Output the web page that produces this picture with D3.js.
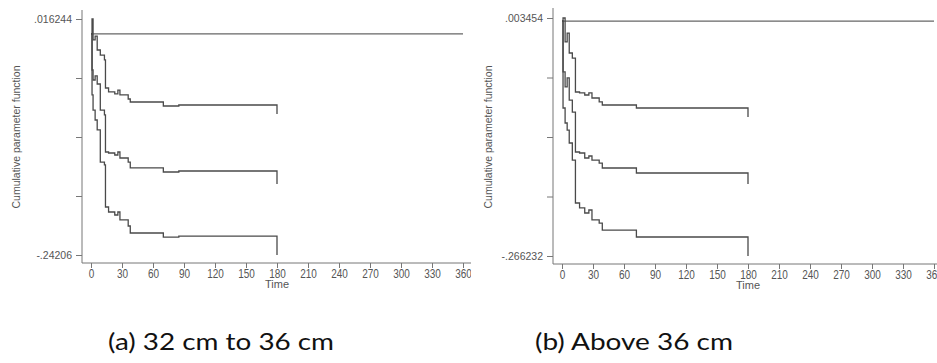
<!DOCTYPE html>
<html>
<head>
<meta charset="utf-8">
<script src="https://cdn.jsdelivr.net/npm/d3@7"></script>
<style>
  html, body { margin: 0; padding: 0; background: #fff; }
  svg { display: block; }
  .axis text { font-family: "Liberation Sans", Arial, sans-serif; fill: #555; }
  .axis line { stroke: #777; }
  .axis path { display: none; }
</style>
</head>
<body>
<svg id="chart" width="937" height="363"></svg>
<script>
// Shared x-axis ticks (days)
const xTicks = [0, 30, 60, 90, 120, 150, 180, 210, 240, 270, 300, 330, 360];
const xLabel = "Time";
const yLabel = "Cumulative parameter function";
const captions = ["(a) 32 cm to 36 cm", "(b) Above 36 cm"];

// Panel (a): step times and cumulative estimates with confidence limits
const timesA    = [0, 1, 2, 4, 6, 9, 13, 14, 17, 23, 26, 28, 36, 38, 70, 85, 180];
const upperA    = [0, 0.016244, -0.0067, -0.0024, -0.0177, -0.0232, -0.0286, -0.0593, -0.0636, -0.0658, -0.0615, -0.0669, -0.0713, -0.0746, -0.0790, -0.0779, -0.0877];
const estimateA = [0, -0.0396, -0.0505, -0.0461, -0.0549, -0.0834, -0.0888, -0.1293, -0.1304, -0.1326, -0.1293, -0.1359, -0.1403, -0.1468, -0.1512, -0.1501, -0.1643];
const lowerA    = [0, -0.0669, -0.0834, -0.0943, -0.1052, -0.1403, -0.1435, -0.1895, -0.1950, -0.1983, -0.1950, -0.2037, -0.2103, -0.2180, -0.2224, -0.2213, -0.24206];
const yExtentA  = [-0.24206, 0.016244];
const yEndLabelsA = ["-.24206", ".016244"];

// Panel (b)
const timesB    = [0, 1, 3, 5, 7, 10, 13, 17, 22, 26, 29, 36, 39, 72, 180];
const upperB    = [0, 0.003454, -0.0237, -0.0136, -0.0362, -0.0419, -0.0804, -0.0815, -0.0838, -0.0815, -0.0872, -0.0917, -0.0951, -0.0985, -0.1087];
const estimateB = [0, -0.0577, -0.0747, -0.0645, -0.0895, -0.1031, -0.1484, -0.1495, -0.1552, -0.1529, -0.1575, -0.1609, -0.1665, -0.1722, -0.1846];
const lowerB    = [0, -0.0985, -0.1155, -0.1235, -0.1382, -0.1575, -0.2062, -0.2118, -0.2175, -0.2141, -0.2254, -0.2289, -0.2368, -0.2447, -0.266232];
const yExtentB  = [-0.266232, 0.003454];
const yEndLabelsB = ["-.266232", ".003454"];

const panels = [
  { times: timesA, series: [upperA, estimateA, lowerA], yExtent: yExtentA, yEnd: yEndLabelsA,
    frame: { axisX: 82, x0: 91, x360: 463, yTop: 19, yBot: 255, axisY: 263, lineTop: 10, right: 471, titleX: 16 },
    caption: captions[0], captionX: 108, captionW: 226 },
  { times: timesB, series: [upperB, estimateB, lowerB], yExtent: yExtentB, yEnd: yEndLabelsB,
    frame: { axisX: 553, x0: 562, x360: 934, yTop: 18, yBot: 256, axisY: 264, lineTop: 8, right: 937, titleX: 488 },
    caption: captions[1], captionX: 535, captionW: 198 }
];

const svg = d3.select("#chart");
const lineColor = "#4a4a4a";

panels.forEach((p, i) => {
  const f = p.frame;
  const clipId = "clip" + i;
  svg.append("clipPath").attr("id", clipId)
    .append("rect").attr("x", 0).attr("y", 0).attr("width", f.right).attr("height", 300);
  const g = svg.append("g").attr("clip-path", `url(#${clipId})`);

  const x = d3.scaleLinear().domain([0, 360]).range([f.x0, f.x360]);
  const y = d3.scaleLinear().domain(p.yExtent).range([f.yBot, f.yTop]);

  // Axis lines
  g.append("line").attr("x1", f.axisX).attr("x2", f.axisX)
    .attr("y1", f.lineTop).attr("y2", f.axisY)
    .attr("stroke", "#777").attr("stroke-width", 1);
  g.append("line").attr("x1", f.axisX).attr("x2", f.right + 10)
    .attr("y1", f.axisY).attr("y2", f.axisY)
    .attr("stroke", "#777").attr("stroke-width", 1);

  // Y axis: five evenly spaced ticks, only the extremes labelled
  const yTickVals = d3.range(5).map(k => p.yExtent[0] + k * (p.yExtent[1] - p.yExtent[0]) / 4);
  const yAxis = d3.axisLeft(y).tickValues(yTickVals).tickSize(6).tickPadding(4).tickSizeOuter(0)
    .tickFormat((d, k) => k === 0 ? p.yEnd[0] : (k === 4 ? p.yEnd[1] : ""));
  g.append("g").attr("class", "axis").attr("transform", `translate(${f.axisX},0)`)
    .call(yAxis)
    .selectAll("text").style("font-size", "10.5px");

  // X axis
  const xAxis = d3.axisBottom(x).tickValues(xTicks).tickSize(5).tickPadding(1).tickSizeOuter(0);
  const xg = g.append("g").attr("class", "axis").attr("transform", `translate(0,${f.axisY})`).call(xAxis);
  xg.selectAll("text").style("font-size", "12.5px").attr("transform", "scale(0.8,1)");

  // Axis titles
  g.append("text").attr("x", x(180)).attr("y", f.axisY + 25)
    .attr("text-anchor", "middle")
    .style("font-family", "'Liberation Sans', Arial, sans-serif").style("font-size", "11px").attr("fill", "#555")
    .text(xLabel);
  g.append("text")
    .attr("transform", `translate(${f.titleX},${(f.yTop + f.yBot) / 2}) rotate(-90)`)
    .attr("text-anchor", "middle").attr("dy", "0.35em")
    .style("font-family", "'Liberation Sans', Arial, sans-serif").style("font-size", "10.5px").attr("fill", "#555")
    .text(yLabel);

  // Zero reference line
  g.append("line").attr("x1", x(0)).attr("x2", x(360))
    .attr("y1", y(0)).attr("y2", y(0))
    .attr("stroke", "#666").attr("stroke-width", 1.2);

  // Step curves: upper limit, estimate, lower limit
  const line = d3.line().curve(d3.curveStepAfter)
    .x((d, k) => x(p.times[k])).y(d => y(d));
  p.series.forEach(s => {
    g.append("path").datum(s).attr("d", line)
      .attr("fill", "none").attr("stroke", lineColor).attr("stroke-width", 1.3);
  });

  // Caption
  svg.append("text").attr("x", p.captionX).attr("y", 350)
    .attr("textLength", p.captionW).attr("lengthAdjust", "spacingAndGlyphs")
    .style("font-family", "Lato, 'Open Sans', sans-serif").style("font-size", "24px").attr("fill", "#111")
    .text(p.caption);
});
</script>
</body>
</html>
